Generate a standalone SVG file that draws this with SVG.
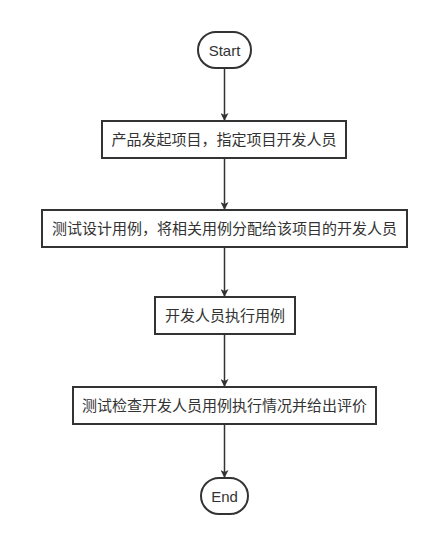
<svg xmlns="http://www.w3.org/2000/svg" width="444" height="534" viewBox="0 0 444 534">
<defs>
<style>
.box{fill:#fff;stroke:#333;stroke-width:2}
.t{font-family:"Liberation Sans","Noto Sans CJK SC",sans-serif;font-size:15px;fill:#333;text-anchor:middle;dominant-baseline:central}
.c{stroke:#333;stroke-width:1.5;fill:none;marker-end:url(#ah)}
</style>
<marker id="ah" markerWidth="8" markerHeight="8" refX="7" refY="4" orient="auto" markerUnits="userSpaceOnUse">
<path d="M0,0 L8,4 L0,8 L2,4 Z" fill="#333"/>
</marker>
</defs>
<rect width="444" height="534" fill="#fff"/>
<g id="connectors">
<line class="c" x1="224.5" y1="68" x2="224.5" y2="120"/>
<line class="c" x1="224.5" y1="158" x2="224.5" y2="209"/>
<line class="c" x1="224.5" y1="247" x2="224.5" y2="296"/>
<line class="c" x1="224.5" y1="334" x2="224.5" y2="386"/>
<line class="c" x1="224.5" y1="424" x2="224.5" y2="477"/>
</g>
<g id="start">
<rect class="box" x="198" y="32" width="53" height="36" rx="18"/>
<text class="t" x="224.5" y="50">Start</text>
</g>
<g id="n1">
<rect class="box" x="102" y="121" width="244" height="37"/>
<text class="t" x="224" y="139.5">产品发起项目，指定项目开发人员</text>
</g>
<g id="n2">
<rect class="box" x="42" y="210" width="365" height="37"/>
<text class="t" x="224.5" y="228.5">测试设计用例，将相关用例分配给该项目的开发人员</text>
</g>
<g id="n3">
<rect class="box" x="155" y="297" width="140" height="37"/>
<text class="t" x="225" y="315.5">开发人员执行用例</text>
</g>
<g id="n4">
<rect class="box" x="73" y="387" width="303" height="37"/>
<text class="t" x="224.5" y="405.5">测试检查开发人员用例执行情况并给出评价</text>
</g>
<g id="end">
<rect class="box" x="201" y="478" width="47" height="36" rx="18"/>
<text class="t" x="224.5" y="496">End</text>
</g>
</svg>
